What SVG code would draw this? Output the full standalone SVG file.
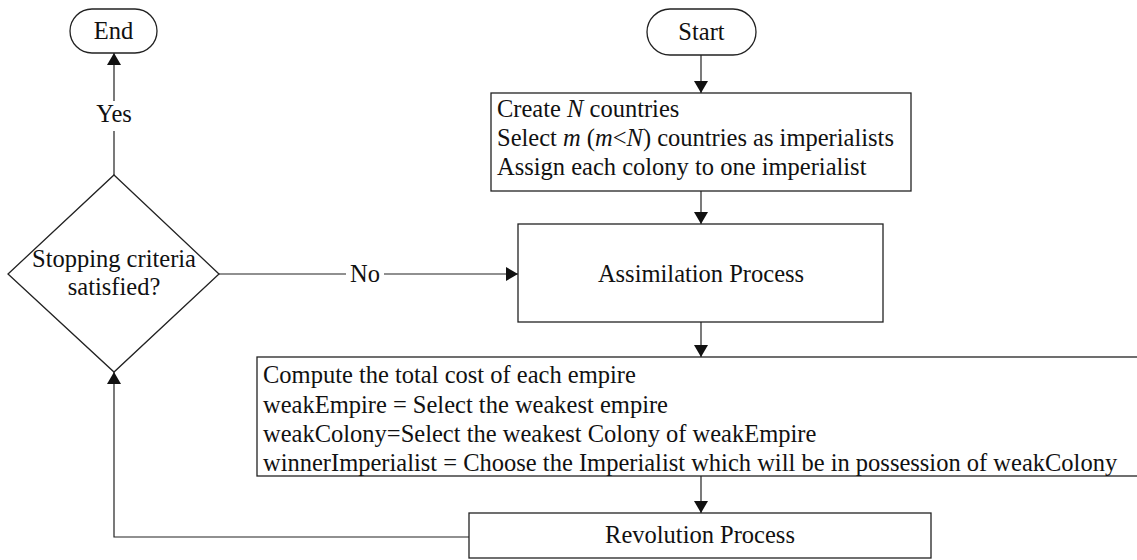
<svg xmlns="http://www.w3.org/2000/svg" width="1137" height="560" viewBox="0 0 1137 560">
<style>
.shape{fill:#fff;stroke:#222;stroke-width:1.3}
.conn{fill:none;stroke:#222;stroke-width:1.2}
text{font-family:"Liberation Serif",serif;font-size:24.5px;fill:#111}
.c{text-anchor:middle}
.i{font-style:italic}
</style>
<defs>
<marker id="arr" markerUnits="userSpaceOnUse" markerWidth="14" markerHeight="14" viewBox="0 0 12 14" refX="12" refY="7" orient="auto">
<path d="M0,0 L12,7 L0,14 Z" fill="#111"/>
</marker>
</defs>
<rect width="1137" height="560" fill="#fff"/>
<g id="connectors">
<path class="conn" d="M701,55 V93" marker-end="url(#arr)"/>
<path class="conn" d="M701,191 V224" marker-end="url(#arr)"/>
<path class="conn" d="M701,322 V357" marker-end="url(#arr)"/>
<path class="conn" d="M701,476 V513" marker-end="url(#arr)"/>
<path class="conn" d="M469,537 H114 V372" marker-end="url(#arr)"/>
<path class="conn" d="M219,274 H346 M384,274 H518" marker-end="url(#arr)"/>
<path class="conn" d="M114,175 V131 M114,101 V53" marker-end="url(#arr)"/>
<text class="c" x="365" y="282">No</text>
<text class="c" x="114" y="122">Yes</text>
</g>
<g id="end">
<rect class="shape" x="70" y="9" width="87" height="44" rx="22"/>
<text class="c" x="113.5" y="39">End</text>
</g>
<g id="start">
<rect class="shape" x="647" y="9" width="109" height="46" rx="23"/>
<text class="c" x="701.5" y="40">Start</text>
</g>
<g id="init">
<rect class="shape" x="491" y="93" width="420" height="98"/>
<text x="497" y="117">Create <tspan class="i">N</tspan> countries</text>
<text x="497" y="146">Select <tspan class="i">m</tspan> (<tspan class="i">m</tspan>&lt;<tspan class="i">N</tspan>) countries as imperialists</text>
<text x="497" y="175">Assign each colony to one imperialist</text>
</g>
<g id="assimilation">
<rect class="shape" x="518" y="224" width="365" height="98"/>
<text class="c" x="701" y="282">Assimilation Process</text>
</g>
<g id="decision">
<polygon class="shape" points="114,175 219,274 114,372 8,274"/>
<text class="c" x="114" y="267">Stopping criteria</text>
<text class="c" x="114" y="295">satisfied?</text>
</g>
<g id="competition">
<rect class="shape" x="257" y="357" width="900" height="119"/>
<text x="263" y="383">Compute the total cost of each empire</text>
<text x="263" y="413">weakEmpire = Select the weakest empire</text>
<text x="263" y="442">weakColony=Select the weakest Colony of weakEmpire</text>
<text x="263" y="471">winnerImperialist = Choose the Imperialist which will be in possession of weakColony</text>
</g>
<g id="revolution">
<rect class="shape" x="469" y="513" width="462" height="45"/>
<text class="c" x="700" y="543">Revolution Process</text>
</g>
</svg>
